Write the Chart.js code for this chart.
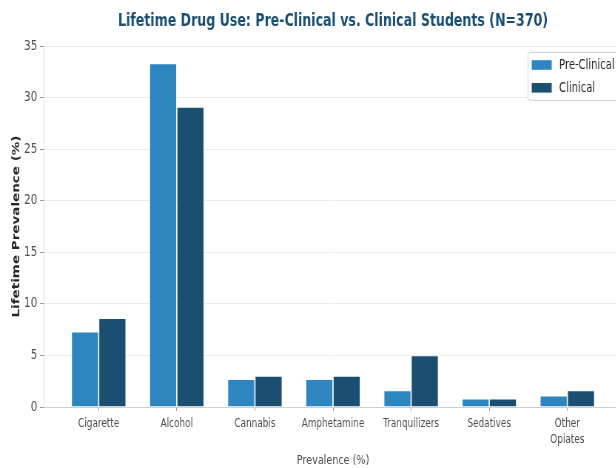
<!DOCTYPE html>
<html><head><meta charset="utf-8">
<script src="https://cdn.jsdelivr.net/npm/chart.js@4"></script>
<style>
html,body{margin:0;padding:0;overflow:hidden;background:#fff;width:616px;height:468px}
#wrap{width:850px;height:468px;transform:scaleX(0.74);transform-origin:0 0}
canvas{display:block}
</style></head><body>
<div id="wrap"><canvas id="c" width="850" height="468" style="width:850px;height:468px"></canvas></div>
<script>
const categories = ['Cigarette','Alcohol','Cannabis','Amphetamine','Tranquilizers','Sedatives','Other Opiates'];
const tickLabels = ['Cigarette','Alcohol','Cannabis','Amphetamine','Tranquilizers','Sedatives',['Other','Opiates']];
const preClinical = [7.3, 33.3, 2.7, 2.7, 1.6, 0.8, 1.1];
const clinical = [8.6, 29.1, 3.0, 3.0, 5.0, 0.8, 1.6];
const seriesNames = ['Pre-Clinical','Clinical'];
const seriesColors = ['#2e86c1','#1b4f72'];
const yTickValues = [0,5,10,15,20,25,30,35];
const chartTitle = 'Lifetime Drug Use: Pre-Clinical vs. Clinical Students (N=370)';
const xTitle = 'Prevalence (%)';
const yTitle = 'Lifetime Prevalence (%)';

const FONT = "'DejaVu Sans', sans-serif";

const legendBox = {
  id: 'legendBox',
  afterDraw(chart) {
    const ctx = chart.ctx;
    const ca = chart.chartArea;
    const left = ca.right - 127, top = ca.top + 6.3;
    ctx.save();
    ctx.beginPath();
    ctx.roundRect(left, top, 160, 48, 3);
    ctx.fillStyle = 'rgba(255,255,255,0.9)';
    ctx.fill();
    ctx.strokeStyle = '#cccccc';
    ctx.lineWidth = 1;
    ctx.stroke();
    ctx.font = '13.5px ' + FONT;
    ctx.textBaseline = 'middle';
    ctx.textAlign = 'left';
    chart.data.datasets.forEach((ds, k) => {
      const cy = top + 12.7 + k * 22.8;
      ctx.fillStyle = ds.backgroundColor;
      ctx.fillRect(left + 5, cy - 4.8, 27, 9.6);
      ctx.fillStyle = '#262626';
      ctx.fillText(ds.label, left + 42, cy + 0.5);
    });
    ctx.restore();
  }
};

new Chart(document.getElementById('c'), {
  type: 'bar',
  data: {
    datasets: seriesNames.map((n, k) => ({
      label: n,
      data: (k ? clinical : preClinical).map((v, i) => ({x: i, y: v})),
      backgroundColor: seriesColors[k],
      borderColor: 'rgba(255,255,255,0.25)',
      borderWidth: 0.8,
      categoryPercentage: 0.7,
      barPercentage: 1.0
    }))
  },
  options: {
    responsive: false,
    animation: false,
    devicePixelRatio: 1,
    layout: {padding: {left: 0, right: 9.5, top: 0, bottom: 0}},
    plugins: {
      legend: {display: false},
      tooltip: {enabled: false},
      title: {
        display: true, text: chartTitle, fullSize: false, color: '#1b4f72',
        font: {family: FONT, size: 17, weight: 'bold', lineHeight: 1.2},
        padding: {top: 11.6, bottom: 14}
      }
    },
    scales: {
      x: {
        type: 'linear', min: -0.7, max: 6.7, offset: false,
        afterBuildTicks(s) { s.ticks = categories.map((c, i) => ({value: i})); },
        afterFit(s) { s.height = 61; },
        ticks: {
          callback: (v) => tickLabels[v], color: '#4d4d4d',
          font: {family: FONT, size: 12, lineHeight: 1.35},
          padding: 4.3, maxRotation: 0, autoSkip: false
        },
        grid: {offset: false, drawOnChartArea: false, drawTicks: true, tickLength: 4, tickColor: '#9a9a9a'},
        border: {color: '#cfcfcf'},
        title: {display: true, text: xTitle, color: '#4d4d4d', font: {family: FONT, size: 13, lineHeight: 1.2}, padding: {top: 0, bottom: 0}}
      },
      y: {
        min: 0, max: 35,
        afterBuildTicks(s) { s.ticks = yTickValues.map(v => ({value: v})); },
        afterFit(s) { s.width = 59.5; },
        ticks: {color: '#4d4d4d', font: {family: FONT, size: 14}, padding: 3.6},
        grid: {color: '#ebebeb', tickLength: 5.5, tickColor: '#9a9a9a'},
        border: {color: '#dcdcdc'},
        title: {display: true, text: yTitle, color: '#262626', font: {family: FONT, size: 13.5, weight: 'bold', lineHeight: 1.2}, padding: {top: 14.5, bottom: 0}}
      }
    }
  },
  plugins: [legendBox]
});
</script>
</body></html>
